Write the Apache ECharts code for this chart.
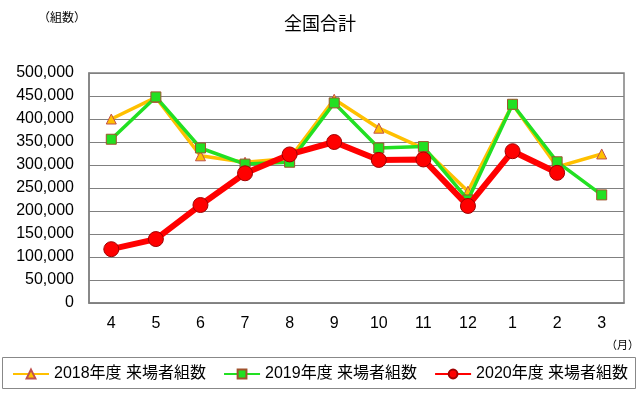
<!DOCTYPE html>
<html><head><meta charset="utf-8">
<script src="https://cdn.jsdelivr.net/npm/echarts@6/dist/echarts.min.js"></script>
<style>html,body{margin:0;padding:0;background:#fff}#c{width:640px;height:397px}</style>
</head><body><div id="c"></div>
<script>
var categories = ['4','5','6','7','8','9','10','11','12','1','2','3'];
var s2018 = [400000,447000,320000,306000,314000,443000,380000,336000,243000,432000,296000,324000];
var s2019 = [356000,448000,337000,302000,306000,435000,337000,340000,224000,432000,307000,235000];
var s2020 = [117000,139000,213000,282000,323000,350000,311000,312000,211000,330000,283000,null];
var yTicks = [0,50000,100000,150000,200000,250000,300000,350000,400000,450000,500000];
var names = ['2018年度 来場者組数','2019年度 来場者組数','2020年度 来場者組数'];
var FONT = '"Liberation Sans","Noto Sans CJK JP",sans-serif';
var chart = echarts.init(document.getElementById('c'));
chart.setOption({
  animation:false,
  textStyle:{fontFamily:FONT},
  title:{text:'全国合計',left:'center',top:9,textStyle:{fontFamily:'"Noto Sans CJK JP",sans-serif',fontSize:18,fontWeight:'normal',color:'#000'}},
  graphic:[
    {type:'text',left:38,top:11,style:{text:'（組数）',font:'12px "Noto Sans CJK JP"',fill:'#000'}},
    {type:'text',left:606,top:339,style:{text:'（月）',font:'11px "Noto Sans CJK JP"',fill:'#000'}},
    {type:'rect',shape:{x:2.5,y:357.5,width:633,height:31},style:{fill:'none',stroke:'#888',lineWidth:1}}
  ],
  grid:{left:89,right:16,top:73,bottom:94,show:true,borderColor:'#808080',borderWidth:1.5},
  legend:{left:12,top:366,itemWidth:36,itemHeight:11,itemGap:17,padding:0,
    textStyle:{fontSize:16,color:'#000',fontFamily:FONT},data:names},
  xAxis:{type:'category',data:categories,boundaryGap:true,
    axisLine:{lineStyle:{color:'#808080',width:1.5}},
    axisTick:{inside:true,length:4,lineStyle:{color:'#000'}},
    axisLabel:{color:'#000',fontSize:16,margin:13}},
  yAxis:{type:'value',min:0,max:500000,interval:50000,
    axisLine:{show:true,lineStyle:{color:'#808080',width:1.5}},
    axisTick:{show:false},
    splitLine:{lineStyle:{color:'#808080',width:1.2}},
    axisLabel:{color:'#000',fontSize:16,margin:15,formatter:function(v){return v.toLocaleString('en-US');}}},
  series:[
    {name:names[0],type:'line',data:s2018,symbol:'triangle',symbolSize:10,
      lineStyle:{color:'#FFC000',width:3.5},
      itemStyle:{color:'#FFC000',borderColor:'#C0504D',borderWidth:1},z:2},
    {name:names[1],type:'line',data:s2019,symbol:'rect',symbolSize:10,
      lineStyle:{color:'#22E022',width:3.5},
      itemStyle:{color:'#22E022',borderColor:'#A0522D',borderWidth:1},z:3},
    {name:names[2],type:'line',data:s2020,symbol:'circle',symbolSize:15,
      lineStyle:{color:'#FF0000',width:6},
      itemStyle:{color:'#FF0000',borderColor:'#A00000',borderWidth:1},z:4}
  ]
});
</script></body></html>
